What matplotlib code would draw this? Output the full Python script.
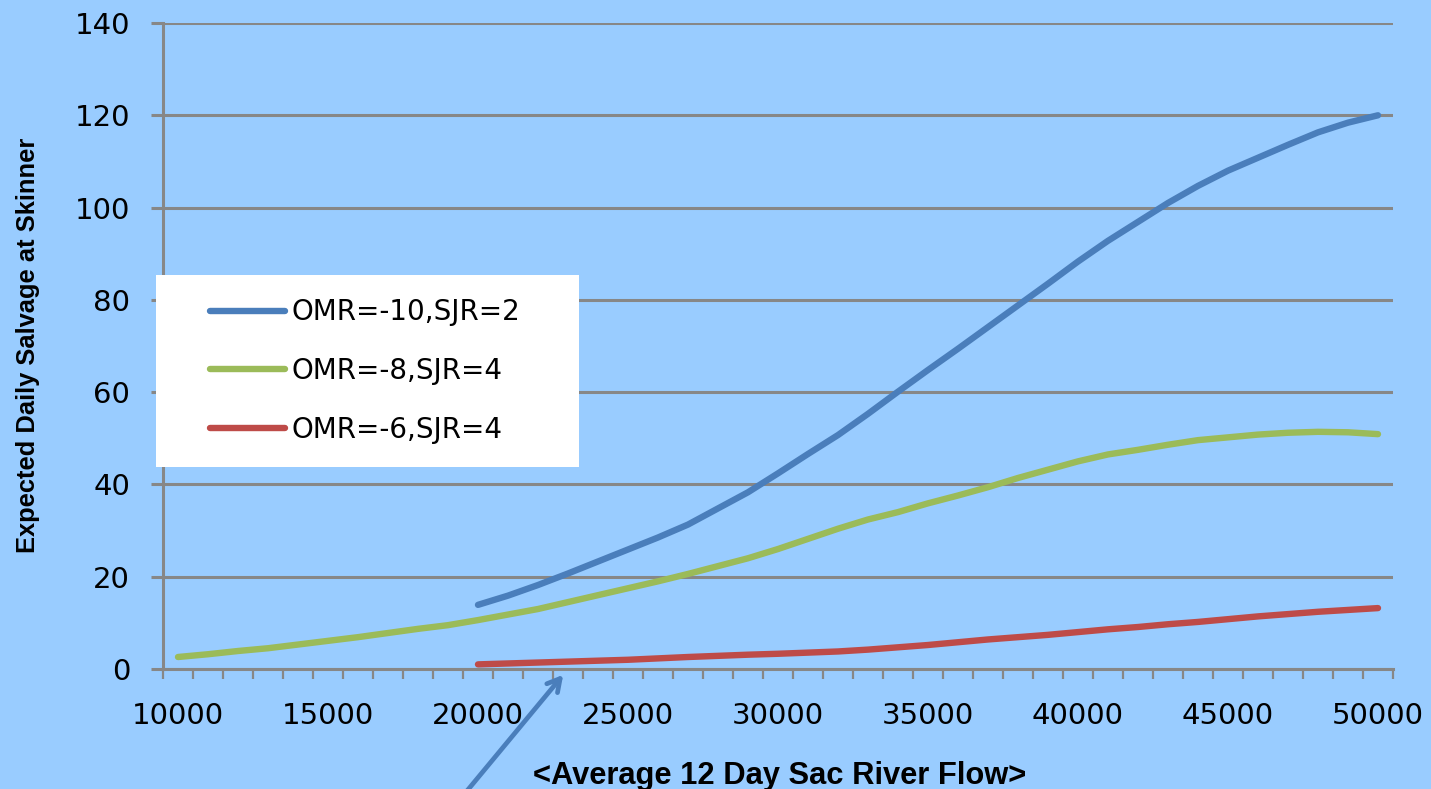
import numpy as np
import matplotlib
matplotlib.use("Agg")
import matplotlib.pyplot as plt
from matplotlib import font_manager

# Average 12-day Sacramento River flow (one category every 1000)
flow = list(range(10000, 50001, 1000))

# Expected daily salvage at Skinner for each operating scenario
omr10_sjr2 = [None] * 10 + [
    13.9, 15.9, 18.2, 20.7, 23.3, 25.9, 28.5, 31.3, 34.8, 38.3,
    42.4, 46.6, 50.7, 55.3, 60.1, 64.8, 69.4, 74.1, 78.8, 83.5,
    88.3, 92.8, 96.9, 101.0, 104.7, 108.0, 110.8, 113.6, 116.3, 118.4,
    120.0,
]
omr8_sjr4 = [
    2.6, 3.2, 3.9, 4.5, 5.3, 6.1, 6.9, 7.8, 8.7, 9.5,
    10.6, 11.8, 13.0, 14.5, 16.0, 17.5, 19.0, 20.6, 22.3, 24.0,
    26.0, 28.2, 30.4, 32.4, 34.0, 35.9, 37.6, 39.4, 41.4, 43.2,
    45.0, 46.5, 47.5, 48.6, 49.6, 50.2, 50.8, 51.2, 51.4, 51.3,
    50.9,
]
omr6_sjr4 = [None] * 10 + [
    1.0, 1.2, 1.4, 1.6, 1.8, 2.0, 2.3, 2.6, 2.85, 3.1,
    3.3, 3.55, 3.8, 4.2, 4.7, 5.2, 5.8, 6.4, 6.9, 7.4,
    8.0, 8.6, 9.1, 9.7, 10.2, 10.8, 11.4, 11.9, 12.4, 12.8,
    13.2,
]

series_labels = ["OMR=-10,SJR=2", "OMR=-8,SJR=4", "OMR=-6,SJR=4"]
series_colors = ["#4A7EBB", "#9BBB59", "#BE4B48"]
x_tick_labels = [str(v) for v in range(10000, 50001, 5000)]
y_ticks = list(range(0, 141, 20))

BG = "#99CCFF"
GRID = "#878787"

installed = {f.name for f in font_manager.fontManager.ttflist}
bold_family = "Liberation Sans" if "Liberation Sans" in installed else "DejaVu Sans"

W, H = 1431, 789
fig = plt.figure(figsize=(W / 100, H / 100), dpi=100, facecolor=BG)
ax = fig.add_axes([163 / W, 120 / H, 1230 / W, 646 / H])
ax.set_facecolor(BG)

x = np.array(flow, dtype=float)
for vals, label, color in zip([omr10_sjr2, omr8_sjr4, omr6_sjr4], series_labels, series_colors):
    y = np.array([np.nan if v is None else v for v in vals], dtype=float)
    ax.plot(x, y, color=color, lw=4.6, solid_capstyle="round",
            solid_joinstyle="round", label=label, zorder=3)

ax.set_xlim(9500, 50500)
ax.set_ylim(0, 140)

for side in ("top", "right"):
    ax.spines[side].set_visible(False)
for side in ("left", "bottom"):
    ax.spines[side].set_color(GRID)
    ax.spines[side].set_linewidth(2.2)

ax.set_yticks(y_ticks)
ax.set_yticklabels([str(v) for v in y_ticks])
ax.yaxis.grid(True, color=GRID, lw=2.2)
ax.set_axisbelow(True)
ax.tick_params(axis="y", length=8.6, width=2.2, color=GRID, direction="out",
               pad=15, labelsize=21, labelcolor="black")

ax.set_xticks(range(10000, 50001, 5000))
ax.set_xticklabels(x_tick_labels)
ax.set_xticks(np.arange(9500, 50501, 1000), minor=True)
ax.tick_params(axis="x", which="major", length=0, pad=24, labelsize=21,
               labelcolor="black")
ax.tick_params(axis="x", which="minor", length=7.2, width=1.6, color=GRID,
               direction="out")

fig.text(28 / W, 1 - 345 / H, "Expected Daily Salvage at Skinner",
         rotation=90, ha="center", va="center", fontsize=18.4,
         fontweight="bold", family=bold_family)
fig.text(780 / W, 1 - 776 / H, "<Average 12 Day Sac River Flow>",
         ha="center", va="center", fontsize=22.2, fontweight="bold",
         family=bold_family)

# Legend on a white panel
panel = plt.Rectangle((156 / W, 1 - 467 / H), 423 / W, 192 / H,
                      transform=fig.transFigure, facecolor="white",
                      edgecolor="none", zorder=5)
ax.add_patch(panel)
panel.set_clip_on(False)
leg = ax.legend(loc="center left", bbox_to_anchor=(210 / W, 1 - 371 / H),
                bbox_transform=fig.transFigure, frameon=False, fontsize=20,
                borderpad=0, borderaxespad=0, handlelength=2.7,
                handletextpad=0.25, labelspacing=1.1)
leg.set_zorder(6)

# Arrow pointing at the start of the low-flow curve
ax.annotate("", xy=(22900, -0.8), xycoords="data",
            xytext=(462 / W, -0.01), textcoords="figure fraction",
            arrowprops=dict(arrowstyle="->,head_length=0.9,head_width=0.5",
                            color="#4A7EBB", lw=3.4),
            annotation_clip=False)

fig.savefig("out.png", dpi=100, facecolor=BG)
